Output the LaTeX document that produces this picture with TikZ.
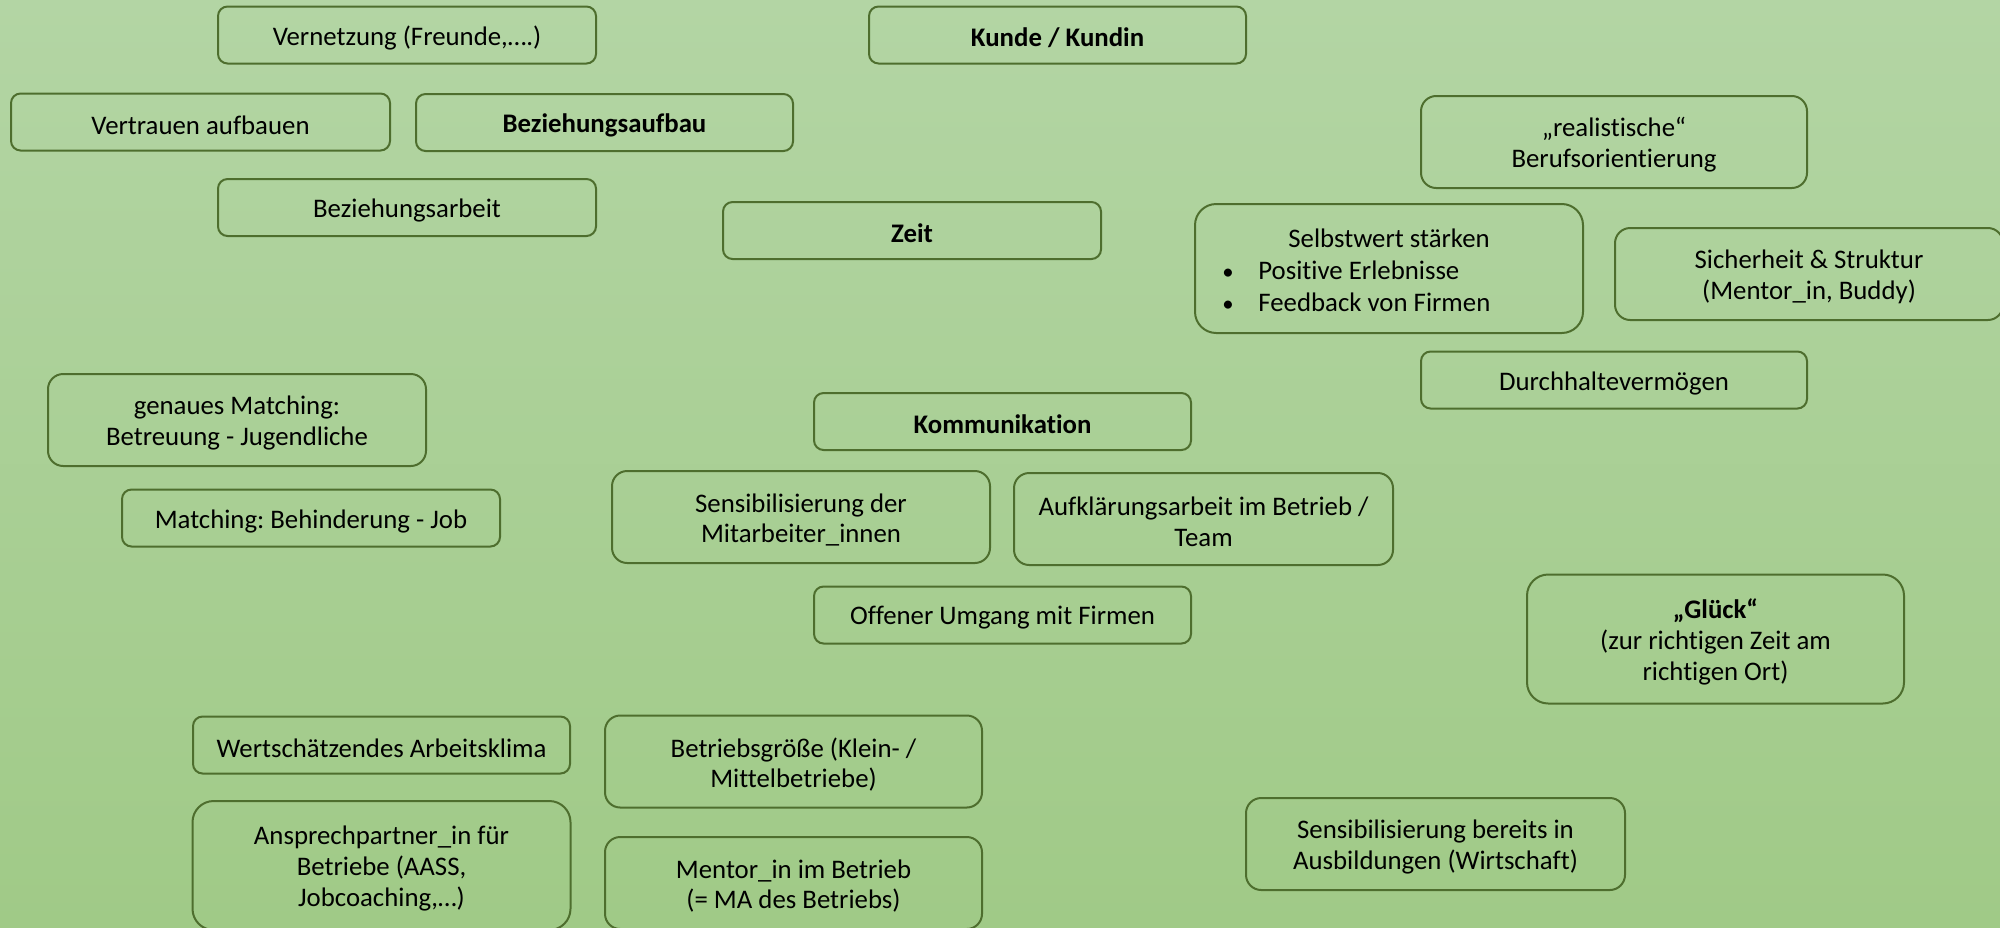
\documentclass[tikz,border=0pt]{standalone}
\usepackage{fontspec}
\setmainfont{Carlito}[Ligatures={NoCommon}]
\frenchspacing
\definecolor{bgtop}{HTML}{B3D5A4}
\definecolor{bgbot}{HTML}{A0CA87}
\definecolor{bordc}{HTML}{4E6E2E}
\tikzset{
  box/.style={draw=bordc, line width=1pt, inner sep=0pt},
  bs/.style={box, rounded corners=4.8pt, minimum height=28.5pt},
  bm/.style={box, rounded corners=7.6pt, minimum height=46pt},
  bl/.style={box, rounded corners=10.6pt, minimum height=64.5pt},
  txt/.style={align=center, inner sep=0pt, text=black,
    font=\fontsize{13.4}{15.4}\selectfont\frenchspacing},
}
\newcommand\mybox[6]{%
  \node[#1, minimum width=#2] (#3) at (#4) {};
  \node[txt] (#3-t) at ([yshift=-1.5pt]#3.center) {#6};
}
\begin{document}
\begin{tikzpicture}[x=0.5pt,y=-0.5pt]
\shade[top color=bgtop, bottom color=bgbot] (0,0) rectangle (2000,927);
\useasboundingbox (0,0) rectangle (2000,927);
\mybox{bs}{189pt}{vern}{407,35}{}{Vernetzung (Freunde,\dots.)}
\mybox{bs}{188.5pt}{kunde}{1057.5,35}{}{\textbf{Kunde / Kundin}}
\mybox{bs}{189.5pt}{vertr}{200.5,122}{}{Vertrauen aufbauen}
\mybox{bs}{188.5pt}{bezauf}{604.5,122.5}{}{\textbf{Beziehungsaufbau}}
\mybox{bm}{193pt}{real}{1614,142}{}{„realistische“\\Berufsorientierung}
\mybox{bs}{189pt}{bezarb}{407,207.5}{}{Beziehungsarbeit}
\mybox{bs}{189pt}{zeit}{912,230.5}{}{\textbf{Zeit}}
\node[bl, minimum width=194pt] (selbst) at (1389,268.5) {};
\node[txt, anchor=base] (selbstt) at (1389,247) {Selbstwert stärken};
\node[txt, anchor=base west] (b1) at (1222,279) {\scalebox{0.85}{•}};
\node[txt, anchor=base west] (p1) at (1258,279) {Positive Erlebnisse};
\node[txt, anchor=base west] (b2) at (1222,311) {\scalebox{0.85}{•}};
\node[txt, anchor=base west] (p2) at (1258,311) {Feedback von Firmen};
\mybox{bm}{194pt}{sich}{1809,274}{}{Sicherheit \& Struktur\\(Mentor\_in, Buddy)}
\mybox{bs}{193pt}{durch}{1614,380}{}{Durchhaltevermögen}
\mybox{bm}{189pt}{genau}{237,420}{}{genaues Matching:\\Betreuung - Jugendliche}
\mybox{bs}{188.5pt}{komm}{1002.5,421.5}{}{\textbf{Kommunikation}}
\mybox{bs}{189pt}{match}{311,518}{}{Matching: Behinderung - Job}
\mybox{bm}{189pt}{sensma}{801,517}{}{Sensibilisierung der\\Mitarbeiter\_innen}
\mybox{bm}{189.5pt}{aufkl}{1203.5,519}{}{Aufklärungsarbeit im Betrieb /\\Team}
\mybox{bs}{188.5pt}{offen}{1002.5,615}{}{Offener Umgang mit Firmen}
\mybox{bl}{188.5pt}{glueck}{1715.5,639}{}{\textbf{„Glück“}\\(zur richtigen Zeit am\\richtigen Ort)}
\mybox{bs}{188.5pt}{wert}{381.5,745}{}{Wertschätzendes Arbeitsklima}
\mybox{bm}{188.5pt}{groesse}{793.5,761.5}{}{Betriebsgröße (Klein- /\\Mittelbetriebe)}
\mybox{bl}{189pt}{ansp}{381.5,865.5}{}{Ansprechpartner\_in für\\Betriebe (AASS,\\Jobcoaching,…)}
\mybox{bm}{188.5pt}{mentor}{793.5,883}{}{Mentor\_in im Betrieb\\(= MA des Betriebs)}
\mybox{bm}{189.5pt}{sensaus}{1435.5,844}{}{Sensibilisierung bereits in\\Ausbildungen (Wirtschaft)}
\end{tikzpicture}
\end{document}
